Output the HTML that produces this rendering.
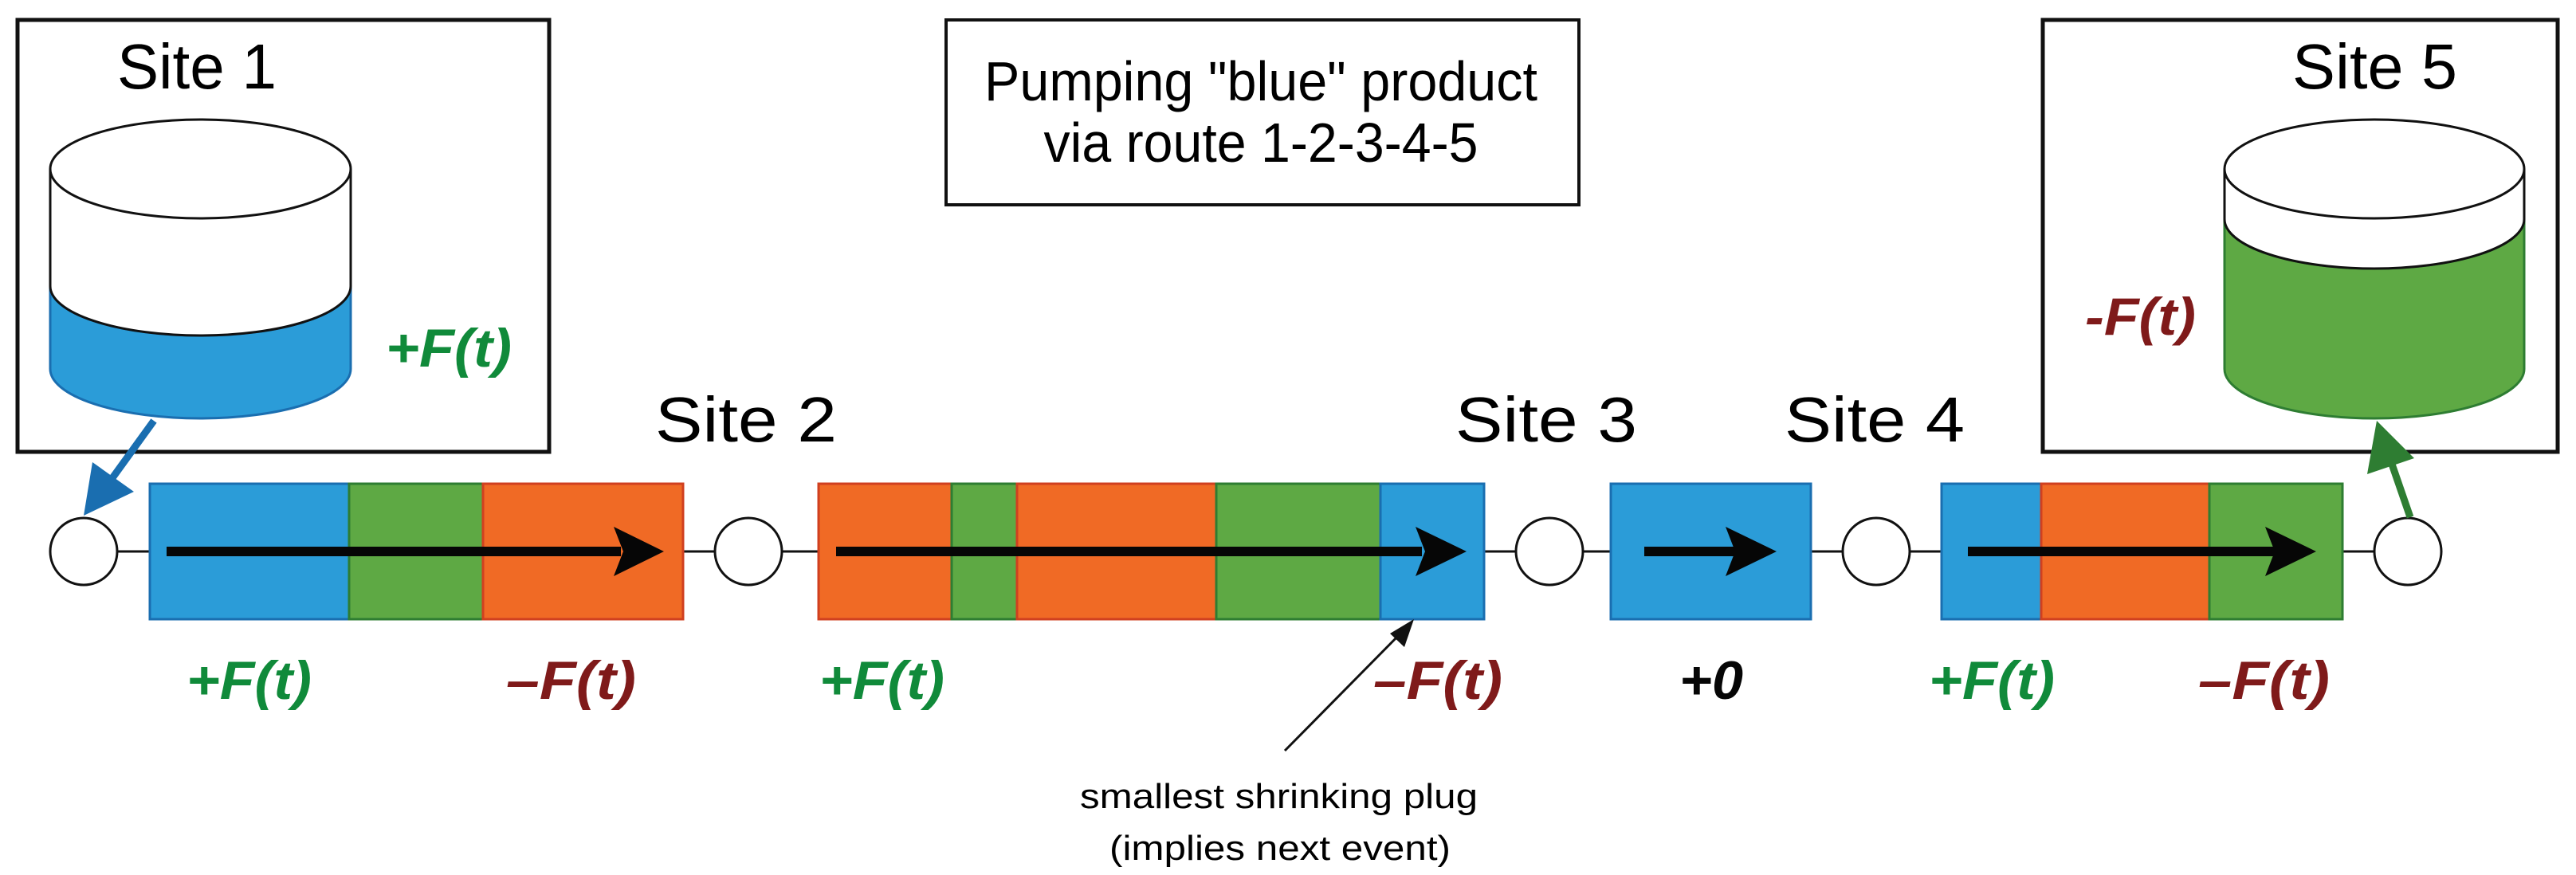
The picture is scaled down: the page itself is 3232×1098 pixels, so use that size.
<!DOCTYPE html>
<html><head><meta charset="utf-8"><style>html,body{margin:0;padding:0;background:#fff}svg{display:block}</style></head>
<body>
<svg width="3232" height="1098" viewBox="0 0 3232 1098" xmlns="http://www.w3.org/2000/svg" font-family="Liberation Sans, Arial, sans-serif">
<rect width="3232" height="1098" fill="#fff"/>
<!-- Site 1 box -->
<rect x="22" y="25" width="667" height="542" fill="none" stroke="#111" stroke-width="5"/>
<text x="147" y="111" font-size="80" textLength="200" lengthAdjust="spacingAndGlyphs">Site 1</text>
<!-- cylinder 1 -->
<path d="M63 359 A188.5 62 0 0 0 440 359 L440 463 A188.5 62 0 0 1 63 463 Z" fill="#2b9cd8" stroke="#1a6eb0" stroke-width="3"/>
<path d="M63 212 L63 359 A188.5 62 0 0 0 440 359 L440 212" fill="#fff" stroke="#111" stroke-width="3"/>
<ellipse cx="251.5" cy="212" rx="188.5" ry="62" fill="#fff" stroke="#111" stroke-width="3"/>
<text x="484" y="460" font-size="68" font-weight="bold" font-style="italic" fill="#108a3a" textLength="158" lengthAdjust="spacingAndGlyphs">+F(t)</text>
<!-- blue arrow -->
<line x1="193" y1="528" x2="130" y2="615" stroke="#1a6eb0" stroke-width="9"/>
<polygon points="105,647 116,580 168,617" fill="#1a6eb0"/>
<!-- title box -->
<rect x="1187" y="25" width="794" height="232" fill="none" stroke="#111" stroke-width="4"/>
<text x="1582" y="126" font-size="70" text-anchor="middle" textLength="694" lengthAdjust="spacingAndGlyphs">Pumping "blue" product</text>
<text x="1582" y="203" font-size="70" text-anchor="middle" textLength="545" lengthAdjust="spacingAndGlyphs">via route 1-2-3-4-5</text>
<!-- line -->
<line x1="105" y1="692" x2="3021" y2="692" stroke="#111" stroke-width="3"/>
<!-- pipe 1 -->
<rect x="188" y="607" width="250" height="170" fill="#2b9cd8" stroke="#1a6eb0" stroke-width="3"/>
<rect x="438" y="607" width="168" height="170" fill="#5ea944" stroke="#2e7d32" stroke-width="3"/>
<rect x="606" y="607" width="251" height="170" fill="#f06a25" stroke="#d04020" stroke-width="3"/>
<!-- pipe 2 -->
<rect x="1027" y="607" width="167" height="170" fill="#f06a25" stroke="#d04020" stroke-width="3"/>
<rect x="1194" y="607" width="82" height="170" fill="#5ea944" stroke="#2e7d32" stroke-width="3"/>
<rect x="1276" y="607" width="250" height="170" fill="#f06a25" stroke="#d04020" stroke-width="3"/>
<rect x="1526" y="607" width="206" height="170" fill="#5ea944" stroke="#2e7d32" stroke-width="3"/>
<rect x="1732" y="607" width="130" height="170" fill="#2b9cd8" stroke="#1a6eb0" stroke-width="3"/>
<!-- pipe 3 -->
<rect x="2021" y="607" width="251" height="170" fill="#2b9cd8" stroke="#1a6eb0" stroke-width="3"/>
<!-- pipe 4 -->
<rect x="2436" y="607" width="125" height="170" fill="#2b9cd8" stroke="#1a6eb0" stroke-width="3"/>
<rect x="2561" y="607" width="211" height="170" fill="#f06a25" stroke="#d04020" stroke-width="3"/>
<rect x="2772" y="607" width="167" height="170" fill="#5ea944" stroke="#2e7d32" stroke-width="3"/>
<!-- flow arrows -->
<g fill="#060606">
<rect x="209" y="686" width="570" height="12"/><polygon points="770,661 833,692 770,723 782,692"/>
<rect x="1049" y="686" width="735" height="12"/><polygon points="776,0 0,0" />
<polygon points="1776,661 1840,692 1776,723 1788,692"/>
<rect x="2063" y="686" width="115" height="12"/><polygon points="2165,661 2229,692 2165,723 2177,692"/>
<rect x="2469" y="686" width="390" height="12"/><polygon points="2842,661 2906,692 2842,723 2854,692"/>
</g>
<!-- circles -->
<g fill="#fff" stroke="#111" stroke-width="3">
<circle cx="105" cy="692" r="42"/><circle cx="939" cy="692" r="42"/><circle cx="1944" cy="692" r="42"/><circle cx="2354" cy="692" r="42"/><circle cx="3021" cy="692" r="42"/>
</g>
<!-- site labels -->
<text x="822" y="554" font-size="80" textLength="228" lengthAdjust="spacingAndGlyphs">Site 2</text>
<text x="1826" y="554" font-size="80" textLength="228" lengthAdjust="spacingAndGlyphs">Site 3</text>
<text x="2239" y="554" font-size="80" textLength="226" lengthAdjust="spacingAndGlyphs">Site 4</text>
<!-- Site 5 -->
<rect x="2563" y="25" width="646" height="542" fill="none" stroke="#111" stroke-width="5"/>
<text x="2876" y="111" font-size="80" textLength="207" lengthAdjust="spacingAndGlyphs">Site 5</text>
<path d="M2791 275 A188 62 0 0 0 3167 275 L3167 463 A188 62 0 0 1 2791 463 Z" fill="#5ea944" stroke="#2e7d32" stroke-width="3"/>
<path d="M2791 212 L2791 275 A188 62 0 0 0 3167 275 L3167 212" fill="#fff" stroke="#111" stroke-width="3"/>
<ellipse cx="2979" cy="212" rx="188" ry="62" fill="#fff" stroke="#111" stroke-width="3"/>
<text x="2616" y="420" font-size="66" font-weight="bold" font-style="italic" fill="#7f1a1a" textLength="139" lengthAdjust="spacingAndGlyphs">-F(t)</text>
<line x1="3024" y1="649" x2="2995" y2="565" stroke="#2e7d32" stroke-width="9"/>
<polygon points="2982,528 3029,575 2970,595" fill="#2e7d32"/>
<!-- bottom labels -->
<g font-size="68" font-weight="bold" font-style="italic">
<text x="234" y="877" fill="#108a3a" textLength="157" lengthAdjust="spacingAndGlyphs">+F(t)</text>
<text x="635" y="877" fill="#7f1a1a" textLength="163" lengthAdjust="spacingAndGlyphs">–F(t)</text>
<text x="1028" y="877" fill="#108a3a" textLength="157" lengthAdjust="spacingAndGlyphs">+F(t)</text>
<text x="1723" y="877" fill="#7f1a1a" textLength="162" lengthAdjust="spacingAndGlyphs">–F(t)</text>
<text x="2107" y="877" fill="#060606" textLength="80" lengthAdjust="spacingAndGlyphs">+0</text>
<text x="2420" y="877" fill="#108a3a" textLength="158" lengthAdjust="spacingAndGlyphs">+F(t)</text>
<text x="2758" y="877" fill="#7f1a1a" textLength="165" lengthAdjust="spacingAndGlyphs">–F(t)</text>
</g>
<!-- annotation -->
<line x1="1612" y1="942" x2="1760" y2="792" stroke="#111" stroke-width="3"/>
<polygon points="1774,777 1762,812 1744,795" fill="#111"/>
<text x="1355" y="1014" font-size="44" textLength="499" lengthAdjust="spacingAndGlyphs">smallest shrinking plug</text>
<text x="1392" y="1079" font-size="44" textLength="428" lengthAdjust="spacingAndGlyphs">(implies next event)</text>
</svg>
</body></html>
